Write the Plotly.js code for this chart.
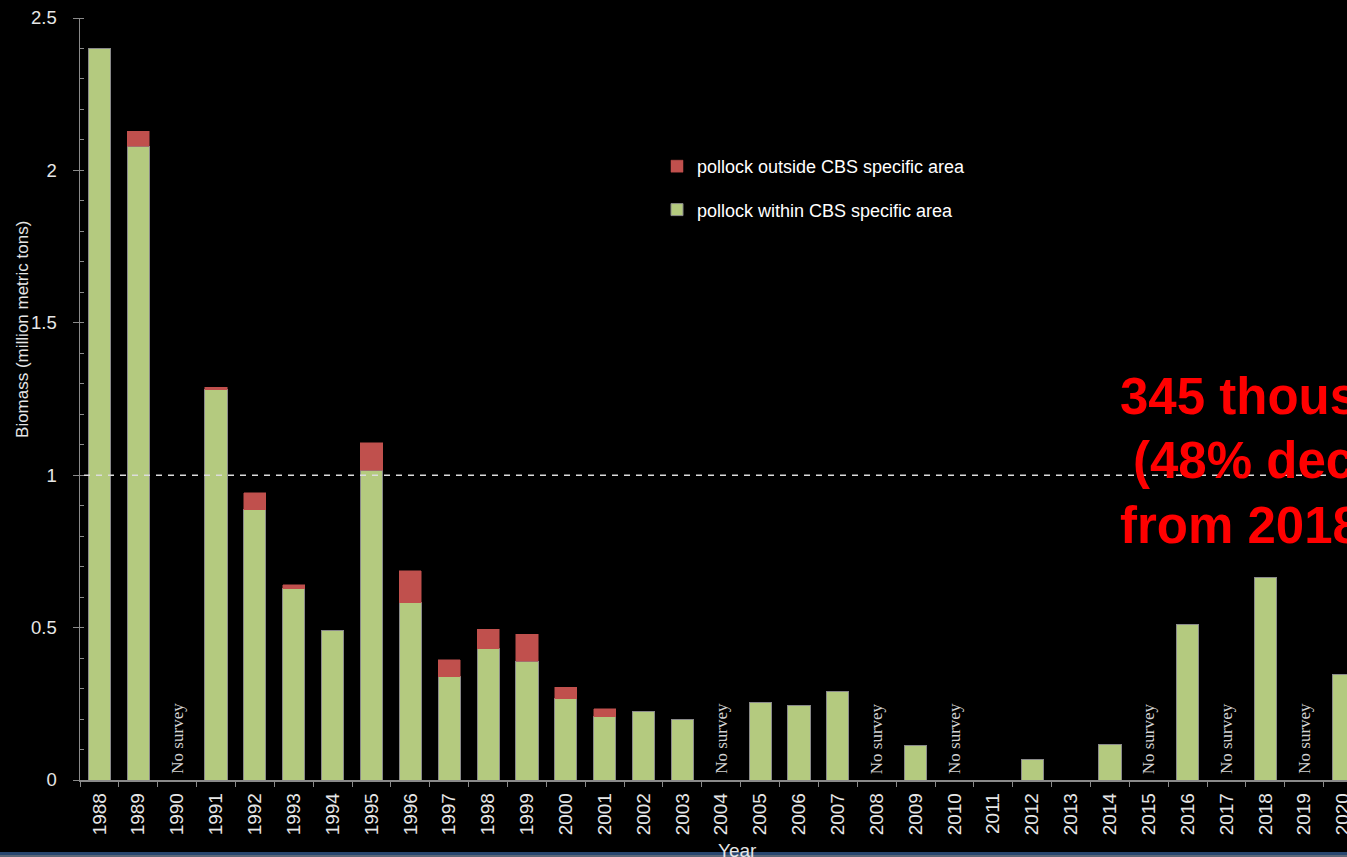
<!DOCTYPE html>
<html>
<head>
<meta charset="utf-8">
<script src="https://cdn.plot.ly/plotly-3.0.1.min.js"></script>
<style>
html,body{margin:0;padding:0;background:#000;overflow:hidden;}
#chart{width:1347px;height:857px;}
</style>
</head>
<body>
<div id="chart"></div>
<script>
// ---- data ----
const years = ["1988","1989","1990","1991","1992","1993","1994","1995","1996","1997","1998","1999","2000","2001","2002","2003","2004","2005","2006","2007","2008","2009","2010","2011","2012","2013","2014","2015","2016","2017","2018","2019","2020"];
const withinCBS = [2.40,2.08,null,1.28,0.886,0.627,0.492,1.017,0.581,0.338,0.430,0.390,0.266,0.207,0.226,0.200,null,0.253,0.243,0.292,null,0.112,null,null,0.066,null,0.115,null,0.509,null,0.663,null,0.345];
const outsideCBS = [null,0.049,null,0.009,0.056,0.013,null,0.089,0.105,0.056,0.065,0.089,0.039,0.026,null,null,null,null,null,null,null,null,null,null,null,null,null,null,null,null,null,null,null];
const noSurveyYears = ["1990","2004","2008","2010","2015","2017","2019"];
const yTickVals = [0,0.5,1,1.5,2,2.5];
const yTickText = ["0","0.5","1","1.5","2","2.5"];
const refLineValue = 1;
const calloutLines = ["345 thousand t","(48% decline","from 2018)"];
const legendNames = ["pollock within CBS specific area","pollock outside CBS specific area"];
const yTitle = "Biomass (million metric tons)";
const xTitle = "Year";
const noSurveyText = "No survey";

// ---- traces ----
const green = "#b4ca7f", red = "#c0504d";
const traces = [
  {type:"bar", x:years, y:withinCBS, name:legendNames[0], legendrank:2, legendgroup:"within",
   marker:{color:green, line:{color:"#8a8a8a", width:1}}, hoverinfo:"x+y"},
  {type:"bar", x:years, y:outsideCBS, name:legendNames[1], legendrank:1, legendgroup:"outside",
   marker:{color:red, line:{color:red, width:0.5}}, hoverinfo:"x+y"}
];

const annotations = [];
noSurveyYears.forEach(function(yr){
  annotations.push({x:years.indexOf(yr), y:0, xref:"x", yref:"y", text:noSurveyText, showarrow:false,
    textangle:-90, yanchor:"bottom", xanchor:"center", yshift:4,
    font:{family:"Liberation Serif, Times New Roman, serif", size:17, color:"#d4d4d4"}});
});
// axis titles
annotations.push({xref:"paper", yref:"paper", x:0, y:0.5906, xshift:-57, text:yTitle, showarrow:false,
  textangle:-90, xanchor:"center", yanchor:"middle",
  font:{family:"Liberation Sans, Arial, sans-serif", size:17, color:"#e6e6e6"}});
annotations.push({xref:"paper", yref:"paper", x:(737-80)/1267, y:(780-838)/762, text:xTitle, showarrow:false,
  xanchor:"center", yanchor:"top",
  font:{family:"Liberation Sans, Arial, sans-serif", size:19, color:"#e6e6e6"}});
// red callout
const calloutX = [1118,1131,1118];
const calloutYpx = [396,460,525];
calloutLines.forEach(function(t,i){
  annotations.push({xref:"paper", yref:"paper", x:(calloutX[i]-80)/1267, y:(780-calloutYpx[i])/762,
    text:"<b>"+t+"</b>", showarrow:false, xanchor:"left", yanchor:"middle", align:"left",
    font:{family:"Liberation Sans, Arial, sans-serif", size:51, color:"#ff0000"}});
});

const layout = {
  width:1347, height:857,
  margin:{l:80, r:0, t:18, b:77, pad:0},
  paper_bgcolor:"#000", plot_bgcolor:"#000",
  barmode:"stack", bargap:0.43,
  showlegend:true,
  legend:{x:(657-80)/1267, y:(780-148)/762, xanchor:"left", yanchor:"top",
    traceorder:"grouped", bgcolor:"rgba(0,0,0,0)",
    font:{family:"Liberation Sans, Arial, sans-serif", size:18, color:"#ffffff"}, itemwidth:30,
    tracegroupgap:17},
  xaxis:{type:"category", range:[-0.5, 32.1], tickangle:-90, tickson:"boundaries",
    ticks:"outside", ticklen:5, tickcolor:"#8a8a8a", showline:true, linecolor:"#8a8a8a", linewidth:1.5,
    showgrid:false, zeroline:false, fixedrange:true, ticklabelstandoff:4,
    tickfont:{family:"Liberation Sans, Arial, sans-serif", size:19, color:"#e6e6e6"}},
  yaxis:{range:[0,2.5], tickvals:yTickVals, ticktext:yTickText, ticks:"outside", ticklen:6,
    tickcolor:"#8a8a8a", showline:true, linecolor:"#8a8a8a", linewidth:1.5, showgrid:false, zeroline:false,
    ticklabelstandoff:12, fixedrange:true,
    minor:{dtick:0.1, ticks:"inside", ticklen:4, tickcolor:"#8a8a8a", showgrid:false},
    tickfont:{family:"Liberation Sans, Arial, sans-serif", size:18.5, color:"#e6e6e6"}},
  shapes:[
    {type:"line", xref:"paper", yref:"y", x0:(84-80)/1267, x1:1, y0:refLineValue, y1:refLineValue,
     line:{color:"#dcdcdc", width:1.5, dash:"6px,6px"}, layer:"above"},
    {type:"rect", xref:"paper", yref:"paper", x0:-0.1, x1:1.1, y0:(780-855)/762, y1:(780-852)/762,
     fillcolor:"#28466f", line:{width:0}, layer:"above"},
    {type:"rect", xref:"paper", yref:"paper", x0:-0.1, x1:1.1, y0:(780-858)/762, y1:(780-855)/762,
     fillcolor:"#5d6878", line:{width:0}, layer:"above"}
  ],
  annotations:annotations
};

Plotly.newPlot("chart", traces, layout, {displayModeBar:false, staticPlot:true});
</script>
</body>
</html>
